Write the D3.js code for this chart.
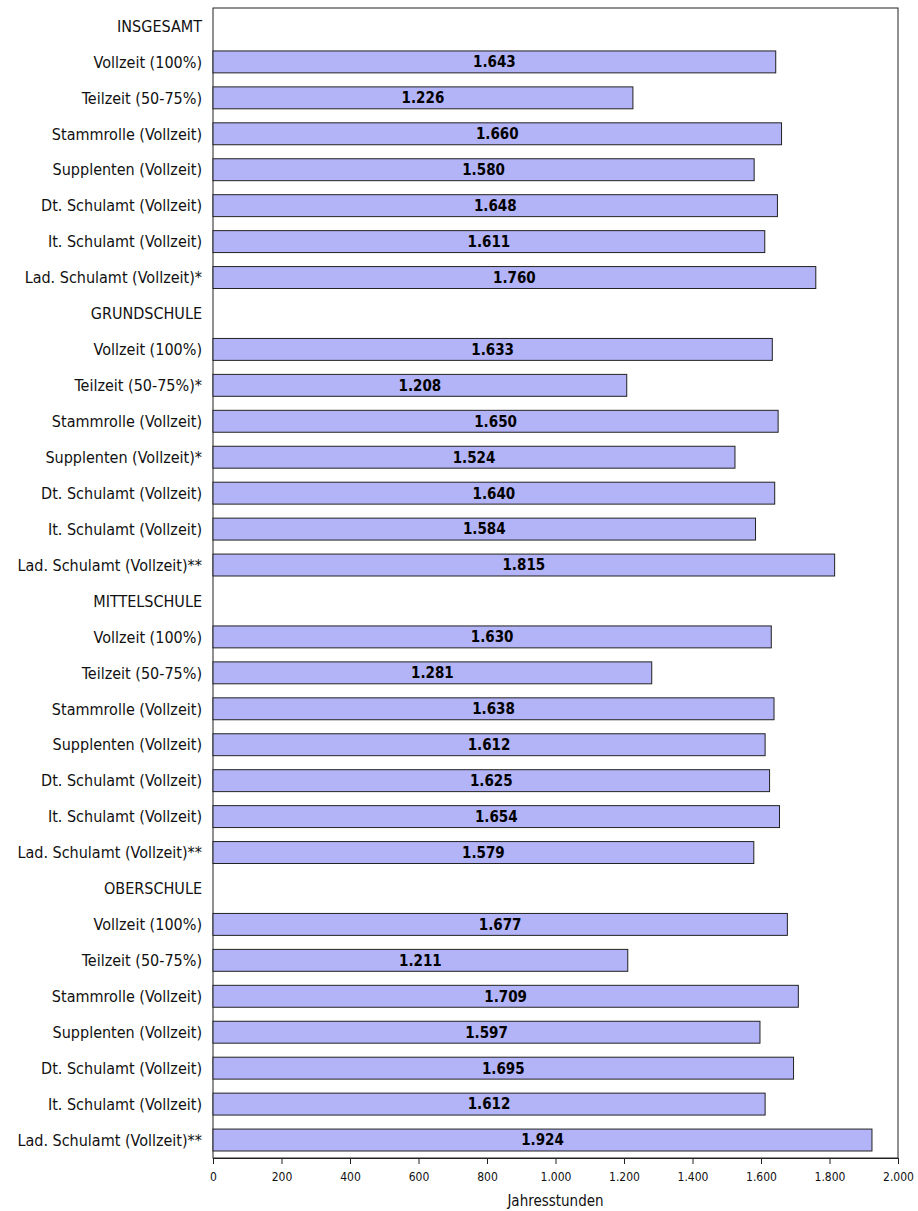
<!DOCTYPE html>
<html>
<head>
<meta charset="utf-8">
<script src="https://cdn.jsdelivr.net/npm/d3@7"></script>
<style>
  body { margin: 0; background: #fff; }
  text { font-family: "DejaVu Sans Condensed", "Liberation Sans Narrow", sans-serif; }
</style>
</head>
<body>
<div id="chart"></div>
<script>
// groups and their rows (labels differ by footnote stars)
const groups = ["INSGESAMT", "GRUNDSCHULE", "MITTELSCHULE", "OBERSCHULE"];

const rowLabels = [
    ["Vollzeit (100%)", "Teilzeit (50-75%)", "Stammrolle (Vollzeit)", "Supplenten (Vollzeit)", "Dt. Schulamt (Vollzeit)", "It. Schulamt (Vollzeit)", "Lad. Schulamt (Vollzeit)*"],
    ["Vollzeit (100%)", "Teilzeit (50-75%)*", "Stammrolle (Vollzeit)", "Supplenten (Vollzeit)*", "Dt. Schulamt (Vollzeit)", "It. Schulamt (Vollzeit)", "Lad. Schulamt (Vollzeit)**"],
    ["Vollzeit (100%)", "Teilzeit (50-75%)", "Stammrolle (Vollzeit)", "Supplenten (Vollzeit)", "Dt. Schulamt (Vollzeit)", "It. Schulamt (Vollzeit)", "Lad. Schulamt (Vollzeit)**"],
    ["Vollzeit (100%)", "Teilzeit (50-75%)", "Stammrolle (Vollzeit)", "Supplenten (Vollzeit)", "Dt. Schulamt (Vollzeit)", "It. Schulamt (Vollzeit)", "Lad. Schulamt (Vollzeit)**"]
];

const insgesamt = [1643, 1226, 1660, 1580, 1648, 1611, 1760];
const grundschule = [1633, 1208, 1650, 1524, 1640, 1584, 1815];
const mittelschule = [1630, 1281, 1638, 1612, 1625, 1654, 1579];
const oberschule = [1677, 1211, 1709, 1597, 1695, 1612, 1924];

const xTicks = [0, 200, 400, 600, 800, 1000, 1200, 1400, 1600, 1800, 2000];
const xTitle = "Jahresstunden";

// flatten into rows: header row (no value) followed by its bars
const seriesValues = [insgesamt, grundschule, mittelschule, oberschule];
const rows = [];
groups.forEach((g, gi) => {
    rows.push({ key: "h" + gi, label: g, value: null });
    rowLabels[gi].forEach((lab, i) => {
        rows.push({ key: gi + "-" + i, label: lab, value: seriesValues[gi][i] });
    });
});

const de = d3.formatLocale({ decimal: ",", thousands: ".", grouping: [3], currency: ["", " €"] });
const fmt = de.format(",d");

const margin = { top: 8, right: 20, bottom: 53, left: 213 };
const width = 918 - margin.left - margin.right;
const height = 1211 - margin.top - margin.bottom;

const svg = d3.select("#chart").append("svg")
    .attr("width", 918)
    .attr("height", 1211)
    .append("g")
    .attr("transform", `translate(${margin.left},${margin.top})`);

const x = d3.scaleLinear().domain([0, 2000]).range([0, width]);

const y = d3.scaleBand()
    .domain(rows.map(d => d.key))
    .range([0, height])
    .paddingInner(0.39)
    .paddingOuter(0.195);

// frame
svg.append("rect")
    .attr("x", 0).attr("y", 0)
    .attr("width", width).attr("height", height)
    .attr("fill", "none")
    .attr("stroke", "#222")
    .attr("stroke-width", 1);

// bars
const bars = rows.filter(d => d.value !== null);
svg.selectAll("rect.bar")
    .data(bars)
    .join("rect")
    .attr("class", "bar")
    .attr("x", 0)
    .attr("y", d => y(d.key))
    .attr("width", d => x(d.value))
    .attr("height", y.bandwidth())
    .attr("fill", "#b3b3f7")
    .attr("stroke", "#222")
    .attr("stroke-width", 1);

// value labels centered in bar
svg.selectAll("text.val")
    .data(bars)
    .join("text")
    .attr("class", "val")
    .attr("x", d => x(d.value) / 2)
    .attr("y", d => y(d.key) + y.bandwidth() / 2)
    .attr("dy", "0.36em")
    .attr("text-anchor", "middle")
    .style("font-size", "15px")
    .style("font-weight", "bold")
    .attr("fill", "#000")
    .text(d => fmt(d.value));

// row labels
svg.selectAll("text.lab")
    .data(rows)
    .join("text")
    .attr("class", "lab")
    .attr("x", -11)
    .attr("y", d => y(d.key) + y.bandwidth() / 2)
    .attr("dy", "0.36em")
    .attr("text-anchor", "end")
    .style("font-size", "16px")
    .attr("fill", "#111")
    .text(d => d.label);

// x axis
const xAxis = svg.append("g")
    .attr("transform", `translate(0,${height})`)
    .call(d3.axisBottom(x).tickValues(xTicks).tickSize(6).tickPadding(8).tickFormat(fmt));
xAxis.select(".domain").attr("stroke", "#222");
xAxis.selectAll(".tick line").attr("stroke", "#222");
xAxis.selectAll(".tick text")
    .style("font-size", "12px")
    .style("font-family", "'DejaVu Sans Condensed', sans-serif")
    .attr("fill", "#111");

svg.append("text")
    .attr("x", width / 2)
    .attr("y", height + 48)
    .attr("text-anchor", "middle")
    .style("font-size", "15px")
    .attr("fill", "#111")
    .text(xTitle);
</script>
</body>
</html>
